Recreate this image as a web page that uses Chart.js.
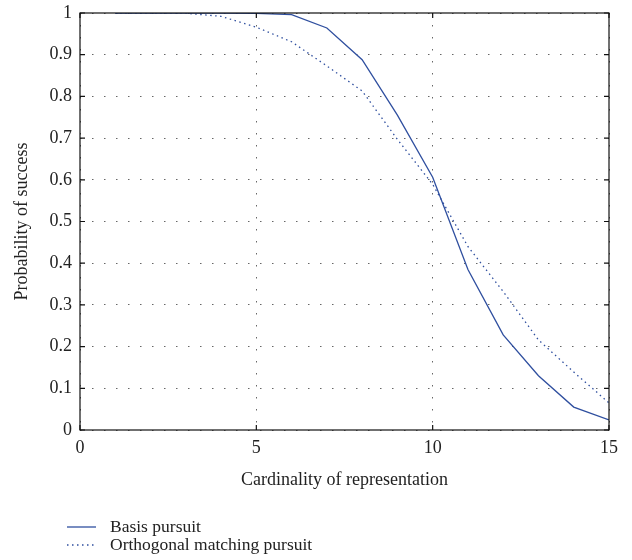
<!DOCTYPE html>
<html>
<head>
<meta charset="utf-8">
<script src="https://cdn.jsdelivr.net/npm/chart.js@4"></script>
<style>
  html, body { margin: 0; padding: 0; background: #fff; }
  #wrap { width: 632px; height: 560px; }
</style>
</head>
<body>
<div id="wrap"><canvas id="c" width="632" height="560"></canvas></div>
<script>
// data
const cardinality = [1, 2, 3, 4, 5, 6, 7, 8, 9, 10, 11, 12, 13, 14, 15];
const basisPursuit = [1, 1, 1, 1, 0.999, 0.996, 0.964, 0.888, 0.755, 0.606, 0.385, 0.228, 0.13, 0.055, 0.024];
const ompPursuit   = [1, 1, 0.9995, 0.992, 0.966, 0.931, 0.873, 0.813, 0.697, 0.589, 0.44, 0.332, 0.216, 0.139, 0.065];
const seriesNames  = ['Basis pursuit', 'Orthogonal matching pursuit'];
const xTicks = [0, 5, 10, 15];

const BLUE = '#2f4f9f';
const FONT = "'Liberation Serif', 'DejaVu Serif', serif";

Chart.defaults.font.family = FONT;
Chart.defaults.color = '#222';

const pts = ys => cardinality.map((x, i) => ({ x, y: ys[i] }));

// frame + inward ticks + legend
const framePlugin = {
  id: 'frame',
  afterDraw(chart) {
    const { ctx, chartArea: a, scales } = chart;
    ctx.save();
    ctx.strokeStyle = '#111';
    ctx.lineWidth = 1.2;
    ctx.strokeRect(a.left, a.top, a.right - a.left, a.bottom - a.top);
    ctx.beginPath();
    xTicks.forEach(v => {
      const px = scales.x.getPixelForValue(v);
      ctx.moveTo(px, a.bottom); ctx.lineTo(px, a.bottom - 5);
      ctx.moveTo(px, a.top); ctx.lineTo(px, a.top + 5);
    });
    scales.y.ticks.forEach(t => {
      const py = scales.y.getPixelForValue(t.value);
      ctx.moveTo(a.left, py); ctx.lineTo(a.left + 5, py);
      ctx.moveTo(a.right, py); ctx.lineTo(a.right - 5, py);
    });
    ctx.stroke();

    // legend
    const rows = [527, 545];
    ctx.font = '17.5px ' + FONT;
    ctx.textBaseline = 'middle';
    chart.data.datasets.forEach((ds, i) => {
      const y = rows[i];
      ctx.strokeStyle = ds.borderColor;
      ctx.lineWidth = ds.borderWidth;
      ctx.setLineDash(ds.borderDash || []);
      ctx.beginPath();
      ctx.moveTo(67, y); ctx.lineTo(96, y);
      ctx.stroke();
      ctx.setLineDash([]);
      ctx.fillStyle = '#222';
      ctx.fillText(ds.label, 110, y);
    });
    ctx.restore();
  },
};

new Chart(document.getElementById('c'), {
  type: 'line',
  data: {
    datasets: [
      {
        label: seriesNames[0],
        data: pts(basisPursuit),
        borderColor: BLUE,
        borderWidth: 1.3,
        pointRadius: 0,
        tension: 0,
      },
      {
        label: seriesNames[1],
        data: pts(ompPursuit),
        borderColor: BLUE,
        borderWidth: 1.3,
        borderDash: [1.5, 3.5],
        pointRadius: 0,
        tension: 0,
      },
    ],
  },
  options: {
    responsive: false,
    animation: false,
    layout: { padding: { top: 13, right: 23, bottom: 60, left: 0 } },
    plugins: { legend: { display: false }, tooltip: { enabled: false } },
    scales: {
      x: {
        type: 'linear',
        min: 0,
        max: 15,
        afterBuildTicks: s => { s.ticks = xTicks.map(v => ({ value: v })); },
        ticks: { font: { size: 18 }, padding: 7, color: '#222' },
        grid: { color: '#666', drawTicks: false },
        border: { display: false, dash: [1.5, 10.5] },
        title: {
          display: true,
          text: 'Cardinality of representation',
          font: { size: 18 },
          color: '#222',
          padding: { top: 0, bottom: 9 },
        },
        afterFit: s => { s.height = 70; },
      },
      y: {
        min: 0,
        max: 1,
        ticks: {
          stepSize: 0.1,
          font: { size: 18 },
          padding: 8,
          color: '#222',
          callback: v => String(Math.round(v * 10) / 10),
        },
        grid: { color: '#666', drawTicks: false },
        border: { display: false, dash: [1.5, 10.5] },
        title: {
          display: true,
          text: 'Probability of success',
          font: { size: 18 },
          color: '#222',
          padding: { top: 11, bottom: 0 },
        },
        afterFit: s => { s.width = 80; s.paddingTop = 0; s.paddingBottom = 0; },
      },
    },
  },
  plugins: [framePlugin],
});
</script>
</body>
</html>
